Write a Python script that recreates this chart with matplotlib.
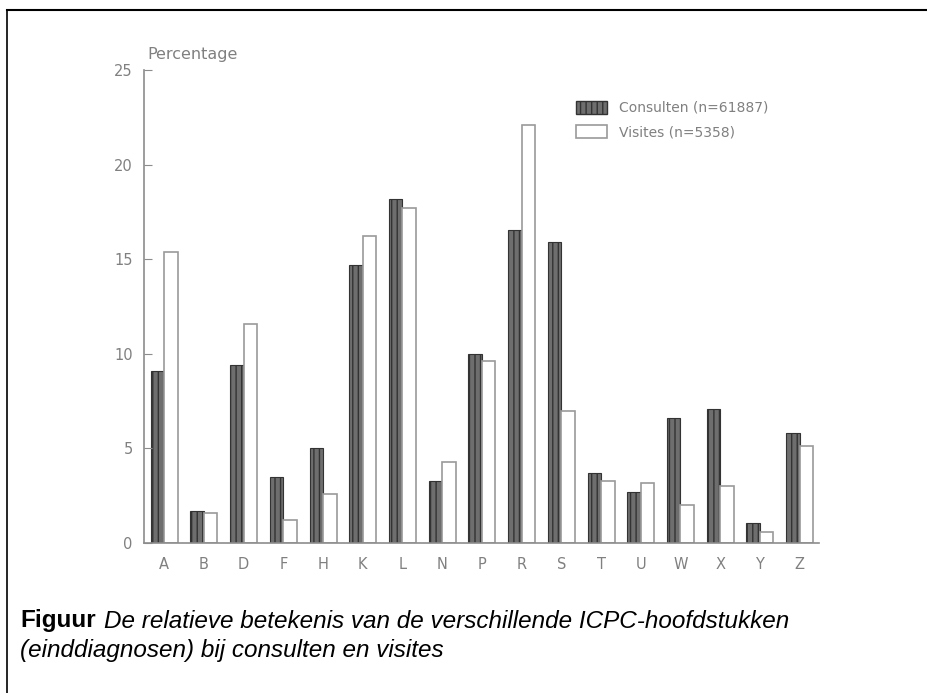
import numpy as np
import matplotlib
matplotlib.use("Agg")
import matplotlib.pyplot as plt
from matplotlib.lines import Line2D
from matplotlib.patches import Patch

# ICPC chapters and percentages
chapters = ["A", "B", "D", "F", "H", "K", "L", "N", "P", "R", "S", "T", "U", "W", "X", "Y", "Z"]
consulten = [9.1, 1.7, 9.4, 3.5, 5.0, 14.7, 18.2, 3.3, 10.0, 16.55, 15.9, 3.7, 2.7, 6.6, 7.1, 1.05, 5.8]
visites = [15.4, 1.6, 11.6, 1.2, 2.6, 16.2, 17.7, 4.3, 9.6, 22.1, 7.0, 3.3, 3.15, 2.0, 3.0, 0.6, 5.1]
yticks = [0, 5, 10, 15, 20, 25]

grey = "#8c8c8c"
plt.rcParams["hatch.linewidth"] = 1.0

fig = plt.figure(figsize=(9.27, 6.93), dpi=100)
ax = fig.add_axes([0.1553, 0.2165, 0.7282, 0.6825])

x = np.arange(len(chapters))
w = 0.34
ax.bar(x - w / 2, consulten, w, facecolor="#6e6e6e", edgecolor="#333333",
       hatch="|||", linewidth=0.8)
ax.bar(x + w / 2, visites, w, facecolor="white", edgecolor="#9a9a9a", linewidth=1.2)

ax.set_xlim(-0.51, 16.49)
ax.set_ylim(0, 25)
ax.set_yticks(yticks)
ax.set_xticks(x)
ax.set_xticklabels(chapters)
ax.tick_params(axis="y", direction="in", length=6, color=grey, labelcolor="#808080",
               labelsize=10.5, pad=8)
ax.tick_params(axis="x", length=0, labelcolor="#808080", labelsize=10.5, pad=10)
for s in ["top", "right"]:
    ax.spines[s].set_visible(False)
for s in ["left", "bottom"]:
    ax.spines[s].set_color(grey)
    ax.spines[s].set_linewidth(1.2)

fig.text(147 / 927, 1 - 55 / 693, "Percentage", color="#808080", fontsize=11.5,
         va="center", ha="left")

# legend
handles = [Patch(facecolor="#6e6e6e", edgecolor="#333333", hatch="|||"),
           Patch(facecolor="white", edgecolor="#9a9a9a", linewidth=1.2)]
leg = fig.legend(handles, ["Consulten (n=61887)", "Visites (n=5358)"],
                 loc="upper left", bbox_to_anchor=(563 / 927, 1 - 88 / 693),
                 frameon=False, fontsize=10, handlelength=2.3, handleheight=1.1,
                 labelspacing=0.7, handletextpad=0.8)
for t in leg.get_texts():
    t.set_color("#808080")

# caption: bold label, then italic text placed right after it
cap_font = ["Liberation Sans", "DejaVu Sans"]
lab = fig.text(20 / 927, 1 - 621 / 693, "Figuur", fontsize=17.5, fontweight="bold",
               family=cap_font, va="center", ha="left")
fig.canvas.draw()
bb = lab.get_window_extent().transformed(fig.transFigure.inverted())
fig.text(bb.x1 + 8 / 927, 1 - 621 / 693, "De relatieve betekenis van de verschillende ICPC-hoofdstukken",
         fontsize=17.5, style="italic", family=cap_font, va="center", ha="left")
fig.text(20 / 927, 1 - 650 / 693, "(einddiagnosen) bij consulten en visites",
         fontsize=17.5, style="italic", family=cap_font, va="center", ha="left")

# frame lines at top and left
fig.add_artist(Line2D([7 / 927, 1], [1 - 10 / 693, 1 - 10 / 693], color="black", lw=1.5))
fig.add_artist(Line2D([7 / 927, 7 / 927], [0, 1 - 10 / 693], color="black", lw=1.2))

fig.savefig("out.png", dpi=100)
